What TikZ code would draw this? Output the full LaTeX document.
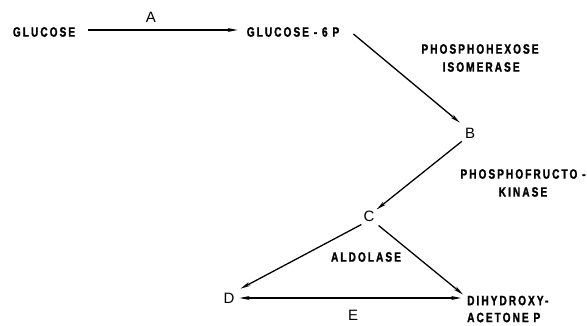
\documentclass[tikz,border=0pt]{standalone}
\usepackage{fontspec}
\usetikzlibrary{arrows.meta,calc}
\newfontfamily\lblfont[FakeStretch=0.75,LetterSpace=15,FakeBold=1.5]{Liberation Sans Bold}
\newfontfamily\letfont{Liberation Sans}
\begin{document}
\begin{tikzpicture}[x=1pt,y=-1pt,
  lbl/.style={font=\lblfont\fontsize{13.5}{15}\selectfont, inner sep=0pt, align=center},
  letter/.style={font=\letfont\fontsize{15}{17}\selectfont, inner sep=0pt},
  conn/.style={line width=1.3pt, -{Stealth[length=10pt,width=4pt]}},
  conn2/.style={line width=1.3pt, {Stealth[length=10pt,width=4pt]}-{Stealth[length=10pt,width=4pt]}}]
\useasboundingbox (0,0) rectangle (587,326);
% nodes
\node[lbl] (glu) at (44,32) {GLUCOSE};
\node[lbl] (g6p) at (293,32) {GLUCOSE - 6 P};
\node[letter] (B) at (470,133) {B};
\node[letter] (C) at (369,216) {C};
\node[letter] (D) at (229,298) {D};
\node[lbl, align=left, anchor=west] (dhap) at (467,309) {DIHYDROXY-\\[2pt]ACETONE P};
% labels
\node[letter] (A) at (151,17) {A};
\node[letter] (E) at (353,315) {E};
\node[lbl] (phi) at (480,58) {PHOSPHOHEXOSE\\[3pt]\,ISOMERASE};
\node[lbl] (pfk) at (523,183) {PHOSPHOFRUCTO -\\[3pt]KINASE};
\node[lbl] (ald) at (366,257) {ALDOLASE};
% connectors
\draw[conn] ($(glu.east)+(13,-2)$) -- ($(g6p.west)+(-9,-2)$);
\draw[conn] ($(g6p.east)+(14,2)$) -- ($(B.north west)+(-5,-5)$);
\draw[conn] ($(B.south west)+(-3,3)$) -- ($(C.north east)+(2,-1)$);
\draw[conn] ($(C.south west)+(-2,3)$) -- ($(D.north east)+(6,-4)$);
\draw[conn] ($(C.south east)+(4,4)$) -- ($(dhap.north west)+(-4,-1)$);
\draw[conn2] ($(D.east)+(5,0)$) -- ($(dhap.west)+(-6,-11)$);
\end{tikzpicture}
\end{document}
